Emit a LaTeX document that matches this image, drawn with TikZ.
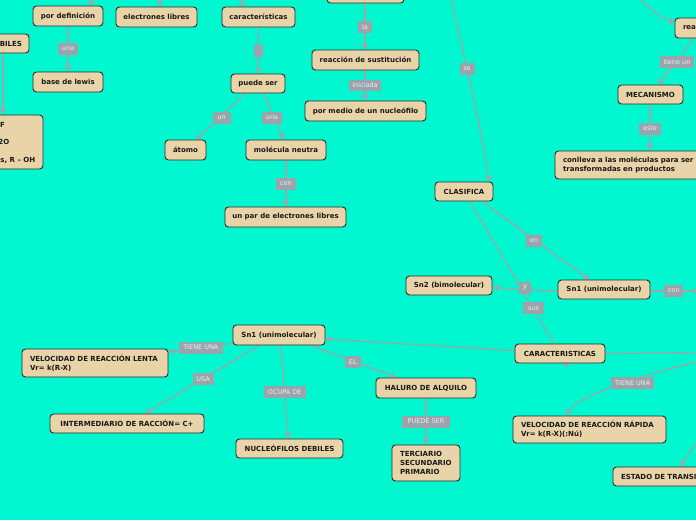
\documentclass[tikz,border=0pt]{standalone}
\usepackage{fontspec}
\newfontfamily\djv{DejaVu Sans}
\usetikzlibrary{arrows.meta,calc}
\definecolor{bg}{RGB}{0,247,208}
\definecolor{boxfill}{RGB}{232,212,168}
\definecolor{boxdraw}{RGB}{40,44,40}
\definecolor{txt}{RGB}{25,25,25}
\definecolor{linec}{RGB}{158,166,172}
\definecolor{lblfill}{RGB}{155,163,171}
\definecolor{lbltxt}{RGB}{236,240,242}
\pgfdeclarelayer{background}
\pgfsetlayers{background,main}
\tikzset{
 box/.style={draw=boxdraw, fill=boxfill, rounded corners=3.5pt, line width=0.9pt,
   font=\djv\bfseries\fontsize{7}{9}\selectfont, text=txt, inner sep=0pt, align=center},
 frag/.style={font=\djv\bfseries\fontsize{7}{9}\selectfont, text=txt, inner sep=0pt},
 lbl/.style={fill=lblfill, text=lbltxt, font=\djv\fontsize{6.5}{8}\selectfont, inner sep=0pt},
 conn/.style={draw=linec, line width=1.3pt, -{Triangle[length=5.5pt,width=6pt]}},
 plain/.style={draw=linec, line width=1.3pt},
}
\begin{document}
\begin{tikzpicture}[x=1pt,y=-1pt]
\begin{pgfonlayer}{background}
\fill[bg] (0,0) rectangle (696,520);
\end{pgfonlayer}
\useasboundingbox (0,0) rectangle (696,520);
% boxes
\node[box, minimum width=70pt, minimum height=20pt] (pd) at (68,16) {por definición};
\node[box, minimum width=81pt, minimum height=20pt] (el) at (156.5,17) {electrones libres};
\node[box, minimum width=73pt, minimum height=20pt] (ca) at (258.5,17) {características};
\node[box, minimum width=77pt, minimum height=20pt] (tp) at (365.5,-7) {};
\node[box, minimum width=69pt, minimum height=19pt, text width=55pt, align=right] (bi) at (-5.5,43.5) {BILES};
\node[box, minimum width=70pt, minimum height=20pt] (bl) at (68,82) {base de lewis};
\node[box, minimum width=103pt, minimum height=54pt] (lb) at (-8.5,142) {};
\node[frag, anchor=east] (lbA) at (5,125) {F};
\node[frag, anchor=east] (lbB) at (9.5,142) {2O};
\node[frag, anchor=east] (lbC) at (35.5,160) {s, R – OH};
\node[box, minimum width=54pt, minimum height=19pt] (ps) at (258,83.5) {puede ser};
\node[box, minimum width=41pt, minimum height=20pt] (at) at (185.5,150) {átomo};
\node[box, minimum width=80pt, minimum height=20pt] (mn) at (286,150) {molécula neutra};
\node[box, minimum width=121pt, minimum height=20pt] (up) at (285.5,217) {un par de electrones libres};
\node[box, minimum width=107pt, minimum height=20pt] (rs) at (365.5,60) {reacción de sustitución};
\node[box, minimum width=121pt, minimum height=20pt] (pm) at (365.5,111) {por medio de un nucleófilo};
\node[box, minimum width=65pt, minimum height=20pt, text width=49pt, align=left] (re) at (707.5,28) {rea};
\node[box, minimum width=65pt, minimum height=19pt] (me) at (650.5,94.5) {MECANISMO};
\node[box, minimum width=205pt, minimum height=28pt, text width=189pt, align=left] (cl) at (657.5,165) {conlleva a las moléculas para ser\\transformadas en productos};
\node[box, minimum width=58pt, minimum height=19pt] (cf) at (464,191.5) {CLASIFICA};
\node[box, minimum width=86pt, minimum height=19pt] (s2) at (449,285.5) {Sn2 (bimolecular)};
\node[box, minimum width=92pt, minimum height=19pt] (s1r) at (604,289.5) {Sn1 (unimolecular)};
\node[box, minimum width=90pt, minimum height=19pt] (cr) at (560,353.5) {CARACTERISTICAS};
\node[box, minimum width=92pt, minimum height=20pt] (s1l) at (279,335) {Sn1 (unimolecular)};
\node[box, minimum width=146pt, minimum height=28pt, text width=130pt, align=left] (vl) at (95,363) {VELOCIDAD DE REACCIÓN LENTA\\Vr= k(R-X)};
\node[box, minimum width=154pt, minimum height=19pt] (ir) at (127,423.5) {INTERMEDIARIO DE RACCIÓN= C+};
\node[box, minimum width=107pt, minimum height=19pt] (nd) at (289.5,448.5) {NUCLEÓFILOS DEBILES};
\node[box, minimum width=100pt, minimum height=20pt] (ha) at (426,388) {HALURO DE ALQUILO};
\node[box, minimum width=68pt, minimum height=36pt, text width=52pt, align=left] (te) at (426,463) {TERCIARIO\\SECUNDARIO\\PRIMARIO};
\node[box, minimum width=153pt, minimum height=27pt, text width=137pt, align=left] (vr) at (589.5,429.5) {VELOCIDAD DE REACCIÓN RÁPIDA\\Vr= k(R-X)(:Nú)};
\node[box, minimum width=107pt, minimum height=19pt, text width=91pt, align=left] (et) at (666.5,476.5) {ESTADO DE TRANSI};
% free ends
\coordinate (t1) at (97,-3);
\coordinate (t2) at (158,-3);
\coordinate (t3) at (237,-3);
\coordinate (t4) at (451,-3);
\coordinate (t5) at (639,-3);
\coordinate (t6) at (700,291);
\coordinate (t7) at (700,353);
\coordinate (t8) at (700,361);
\coordinate (t9) at (700,438);
% labels
\node[lbl, minimum width=20pt, minimum height=12pt] (l1) at (68,49) {una};
\node[lbl, minimum width=14pt, minimum height=12pt] (l2) at (365,27) {la};
\node[lbl, minimum width=9.5pt, minimum height=11.7pt] (l3) at (258.3,51) {};
\node[lbl, minimum width=32.5pt, minimum height=11pt] (l4) at (365,85.5) {iniciada};
\node[lbl, minimum width=18pt, minimum height=12pt] (l5) at (221.7,117.5) {un};
\node[lbl, minimum width=20pt, minimum height=12pt] (l6) at (272,117.5) {una};
\node[lbl, minimum width=20pt, minimum height=12pt] (l7) at (286,184) {con};
\node[lbl, minimum width=15pt, minimum height=12pt] (l8) at (467,69) {se};
\node[lbl, minimum width=34pt, minimum height=12pt] (l9) at (677,62) {tiene un};
\node[lbl, minimum width=22pt, minimum height=12pt] (l10) at (650,128.5) {este};
\node[lbl, minimum width=16pt, minimum height=12pt] (l11) at (534,241) {en};
\node[lbl, minimum width=12pt, minimum height=12pt] (l12) at (525,287.5) {y};
\node[lbl, minimum width=21pt, minimum height=12pt] (l13) at (533.5,308.3) {sus};
\node[lbl, minimum width=19pt, minimum height=12pt] (l14) at (673.7,291) {con};
\node[lbl, minimum width=44pt, minimum height=12pt] (l15) at (200.8,347.5) {TIENE UNA};
\node[lbl, minimum width=21pt, minimum height=12pt] (l16) at (203,379.3) {USA};
\node[lbl, minimum width=16pt, minimum height=12pt] (l17) at (352.8,361.8) {EL};
\node[lbl, minimum width=42pt, minimum height=12pt] (l18) at (284.7,392) {OCUPA DE};
\node[lbl, minimum width=48pt, minimum height=12pt] (l19) at (426,421.5) {PUEDE SER};
\node[lbl, minimum width=43pt, minimum height=12pt] (l20) at (632.7,382.8) {TIENE UNA};
% connectors
\begin{pgfonlayer}{background}
\draw[conn] (t1) -- ([xshift=20pt]pd.north);
\draw[conn] (t2) -- ([xshift=4.5pt]el.north);
\draw[conn] (t3) -- ([xshift=-13.5pt]ca.north);
\draw[conn] (pd.south) -- (bl.north);
\draw[conn] ([xshift=8.5pt]bi.south) -- ([xshift=11.5pt]lb.north);
\draw[conn] ([xshift=-0.5pt]tp.south) -- ([xshift=-0.5pt]rs.north);
\draw[conn] ([xshift=-0.5pt]rs.south) -- ([xshift=-0.5pt]pm.north);
\draw[conn] (ca.south) -- (ps.north);
\draw[conn] ([xshift=-13pt]ps.south) -- ([xshift=10.5pt]at.north);
\draw[conn] ([xshift=6pt]ps.south) -- ([xshift=-2.7pt]mn.north);
\draw[conn] (mn.south) -- ([xshift=0.5pt]up.north);
\draw[conn] (t4) .. controls (462,50) and (480,120) .. ([xshift=25.3pt]cf.north);
\draw[conn] (t5) .. controls (652,12) and (662,18) .. ([yshift=5pt]re.west);
\draw[conn] ([xshift=-13.5pt]re.south) -- ([xshift=7.8pt]me.north);
\draw[conn] ([xshift=-0.5pt]me.south) -- ([xshift=-7.5pt]cl.north);
\draw[conn] ([xshift=18pt]cf.south) -- ([xshift=-14.7pt]s1r.north);
\draw[conn] ([xshift=6pt]cf.south) -- ([xshift=8pt,yshift=-4pt]cr.south);
\draw[conn] ([yshift=-2pt]s1r.west) -- ([yshift=-2pt]s2.east);
\draw[conn] ([yshift=-1.5pt]s1r.east) -- (t6);
\draw[conn] ([yshift=3pt]cr.west) -- ([yshift=-4pt]s1l.east);
\draw[plain] (cr.east) -- (t7);
\draw[conn] (t8) .. controls (630,378) and (575,398) .. ([xshift=-22.5pt]vr.north);
\draw[conn] (t9) -- ([xshift=13.5pt]et.north);
\draw[conn] ([yshift=-8pt]s1l.west) -- ([yshift=11pt]vl.east);
\draw[conn] ([xshift=-20pt]s1l.south) -- ([xshift=18pt]ir.north);
\draw[conn] ([xshift=1.7pt]s1l.south) -- ([xshift=-1.2pt]nd.north);
\draw[conn] ([xshift=32pt]s1l.south) -- ([xshift=-29.3pt]ha.north);
\draw[conn] (ha.south) -- (te.north);
\end{pgfonlayer}
\end{tikzpicture}
\end{document}
